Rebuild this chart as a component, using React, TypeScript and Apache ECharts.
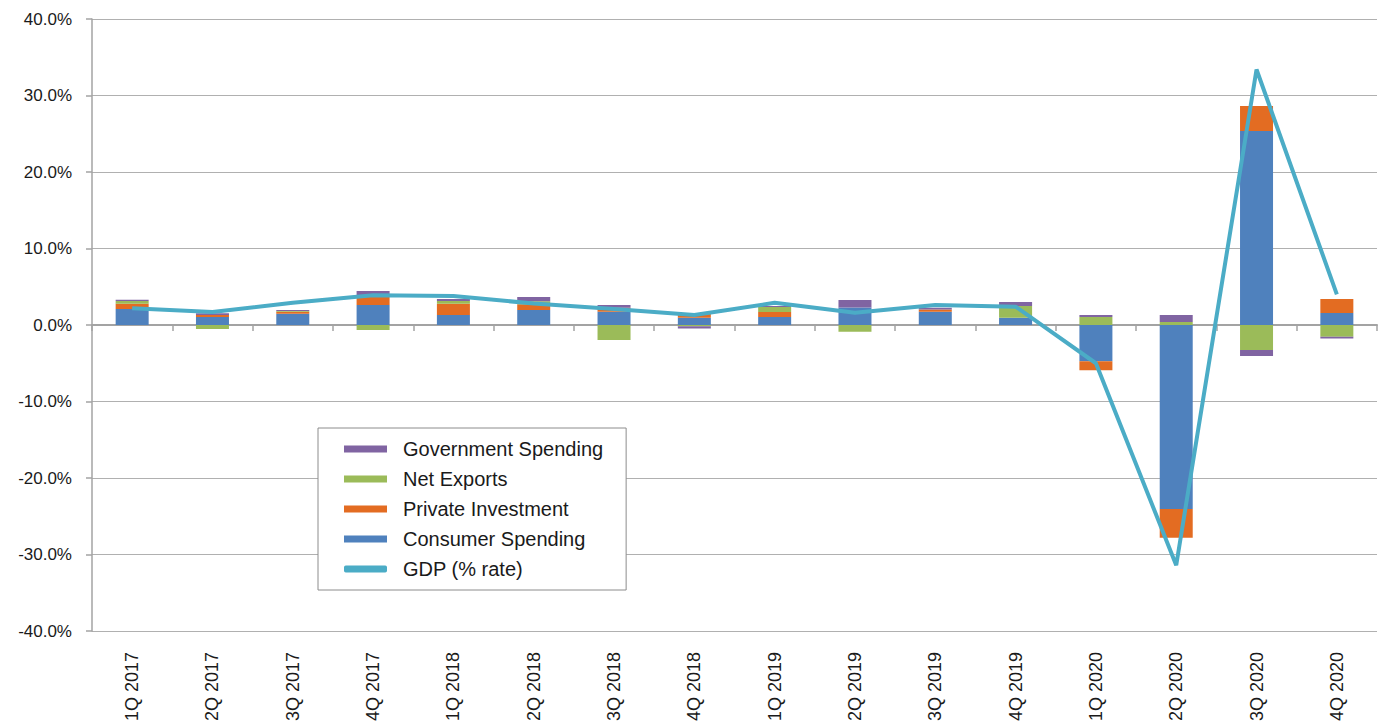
import React, { useEffect, useRef } from "react";
import * as echarts from "echarts";

const categories = [
  "1Q 2017", "2Q 2017", "3Q 2017", "4Q 2017",
  "1Q 2018", "2Q 2018", "3Q 2018", "4Q 2018",
  "1Q 2019", "2Q 2019", "3Q 2019", "4Q 2019",
  "1Q 2020", "2Q 2020", "3Q 2020", "4Q 2020",
];

const consumerSpending = [2.09, 1.05, 1.48, 2.61, 1.31, 1.96, 1.74, 0.96, 1.05, 2.3, 1.74, 0.96, -4.75, -24.05, 25.36, 1.57];
const privateInvestment = [0.7, 0.26, 0.26, 1.17, 1.48, 0.75, 0.52, 0.6, 0.65, 0, 0.3, 0, -1.15, -3.75, 3.27, 1.83];
const netExports = [0.35, -0.52, 0.1, -0.65, 0.35, 0.4, -1.96, -0.15, 0.65, -0.87, 0, 1.52, 1.05, 0.4, -3.27, -1.52];
const governmentSpending = [0.17, 0.22, 0.13, 0.65, 0.26, 0.55, 0.35, -0.3, 0.13, 0.96, 0.22, 0.52, 0.26, 0.9, -0.78, -0.26];
const gdpRate = [2.2, 1.7, 2.9, 3.9, 3.8, 2.8, 2.1, 1.3, 2.9, 1.6, 2.6, 2.4, -5.0, -31.4, 33.4, 4.0];

const yTicks = { min: -40, max: 40, interval: 10 };

const COLORS = {
  consumer: "#4f81bd",
  investment: "#e36c22",
  exports: "#9bbb59",
  gov: "#8064a2",
  gdp: "#4bacc6",
};

const FONT = "'Liberation Sans', Arial, Helvetica, sans-serif";

export default function App() {
  const ref = useRef<HTMLDivElement>(null);

  useEffect(() => {
    if (!ref.current) return;
    const chart = echarts.init(ref.current, undefined, { renderer: "svg" });
    const barCommon = {
      type: "bar",
      stack: "total",
      barWidth: 33,
      xAxisIndex: 0,
      yAxisIndex: 0,
    };
    chart.setOption({
      animation: false,
      backgroundColor: "#ffffff",
      textStyle: { fontFamily: FONT },
      grid: { left: 92, right: 7, top: 19, bottom: 95, containLabel: false },
      legend: {
        orient: "vertical",
        left: 318,
        top: 428,
        padding: [11, 23, 11, 26],
        itemWidth: 43,
        itemHeight: 7,
        itemGap: 10,
        borderColor: "#8c8c8c",
        borderWidth: 1,
        backgroundColor: "#ffffff",
        textStyle: {
          fontFamily: FONT,
          fontSize: 20,
          color: "#1a1a1a",
          lineHeight: 20,
          padding: [0, 0, 0, 11],
        },
        data: [
          { name: "Government Spending", icon: "rect" },
          { name: "Net Exports", icon: "rect" },
          { name: "Private Investment", icon: "rect" },
          { name: "Consumer Spending", icon: "rect" },
          { name: "GDP (% rate)", icon: "roundRect" },
        ],
      },
      xAxis: [
        {
          type: "category",
          data: categories,
          position: "bottom",
          axisLine: { show: false, onZero: false },
          axisTick: { show: false },
          axisLabel: {
            rotate: 90,
            fontSize: 18,
            color: "#1a1a1a",
            fontFamily: FONT,
            margin: 21,
            interval: 0,
          },
          splitLine: { show: false },
        },
        {
          type: "category",
          data: categories,
          position: "bottom",
          axisLine: { show: true, onZero: true, lineStyle: { color: "#a3a3a3", width: 2 } },
          axisTick: { show: true, inside: false, length: 6, lineStyle: { color: "#a3a3a3", width: 1.5 } },
          axisLabel: { show: false },
          splitLine: { show: false },
        },
      ],
      yAxis: {
        type: "value",
        min: yTicks.min,
        max: yTicks.max,
        interval: yTicks.interval,
        axisLine: { show: true, lineStyle: { color: "#a3a3a3", width: 1.5 } },
        axisTick: { show: true, inside: false, length: 6, lineStyle: { color: "#a3a3a3", width: 1.5 } },
        axisLabel: {
          fontSize: 17,
          color: "#1a1a1a",
          fontFamily: FONT,
          margin: 20,
          formatter: (v: number) => v.toFixed(1) + "%",
        },
        splitLine: { show: true, lineStyle: { color: "#b0b0b0", width: 1 } },
      },
      series: [
        { ...barCommon, name: "Consumer Spending", data: consumerSpending, itemStyle: { color: COLORS.consumer } },
        { ...barCommon, name: "Private Investment", data: privateInvestment, itemStyle: { color: COLORS.investment } },
        { ...barCommon, name: "Net Exports", data: netExports, itemStyle: { color: COLORS.exports } },
        { ...barCommon, name: "Government Spending", data: governmentSpending, itemStyle: { color: COLORS.gov } },
        {
          type: "line",
          name: "GDP (% rate)",
          data: gdpRate,
          xAxisIndex: 0,
          yAxisIndex: 0,
          showSymbol: false,
          symbol: "none",
          lineStyle: { color: COLORS.gdp, width: 4 },
          itemStyle: { color: COLORS.gdp },
          z: 5,
        },
      ],
    });
    return () => chart.dispose();
  }, []);

  return (
    <div
      ref={ref}
      style={{ position: "absolute", left: 0, top: 0, width: 1384, height: 726 }}
    />
  );
}
